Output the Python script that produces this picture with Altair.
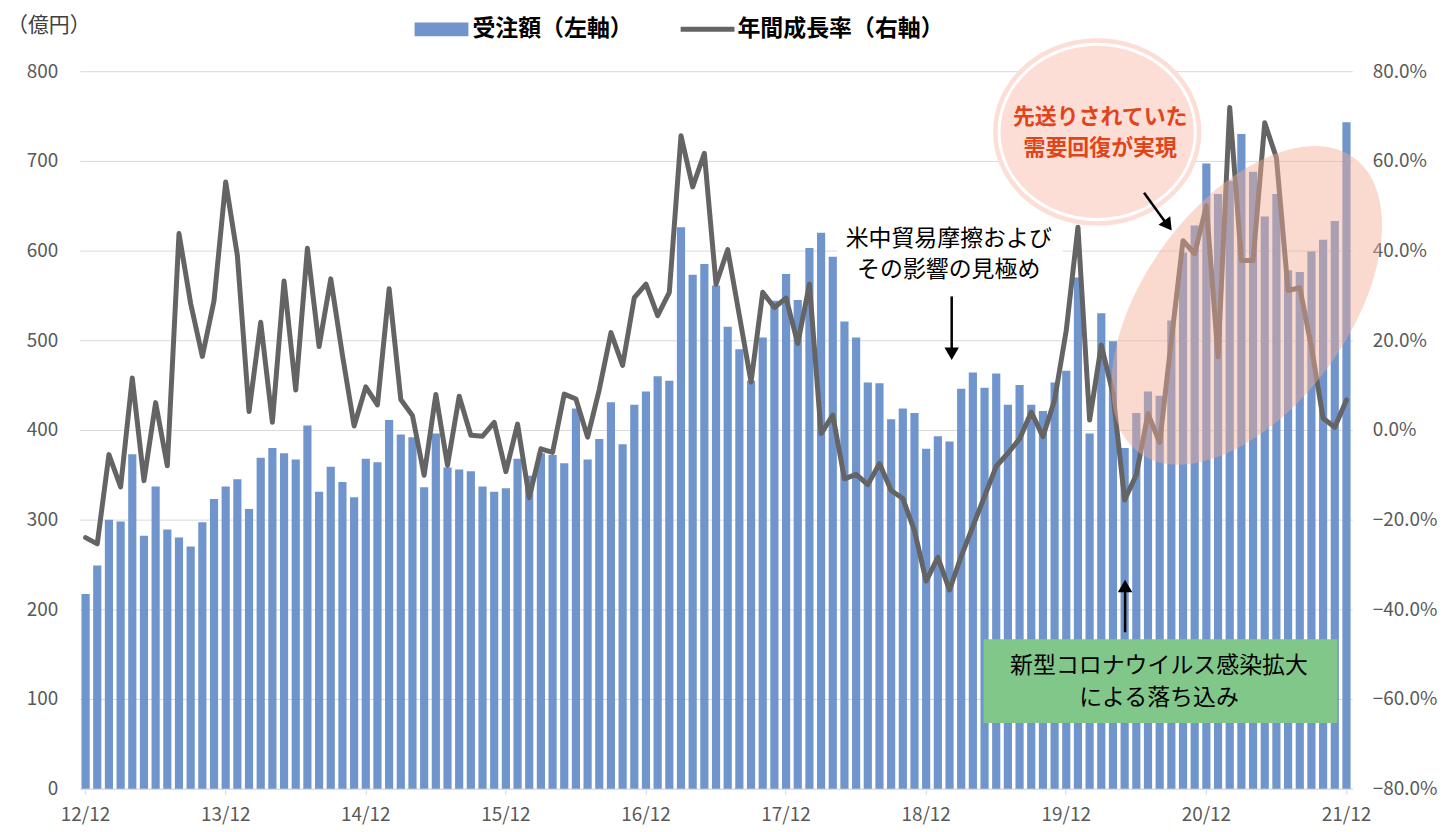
import altair as alt
import pandas as pd

# ---------------- data ----------------
months = [f"{12 + (i + 11) // 12:02d}/{(i + 11) % 12 + 1:02d}" for i in range(109)]

orders = [217, 249, 300, 298, 373, 282, 337, 289, 280, 270, 297, 323,
          337, 345, 312, 369, 380, 374, 367, 405, 331, 359, 342, 325,
          368, 364, 411, 395, 392, 336, 396, 358, 356, 354, 337, 331,
          335, 368, 349, 374, 372, 363, 424, 367, 390, 431, 384, 428,
          443, 460, 455, 626, 573, 585, 561, 515, 490, 455, 503, 544,
          574, 545, 603, 620, 593, 521, 503, 453, 452, 412, 424, 419,
          379, 393, 387, 446, 464, 447, 463, 428, 450, 428, 421, 453,
          466, 570, 396, 530, 499, 380, 419, 443, 438, 522, 598, 628,
          697, 663, 678, 730, 688, 638, 663, 578, 576, 599, 612, 633,
          743]

growth = [-24.0, -25.4, -5.5, -12.7, 11.6, -11.3, 6.1, -8.0, 43.8, 28.2, 16.4, 28.8,
          55.3, 38.9, 4.1, 24.0, 1.7, 33.2, 8.9, 40.5, 18.6, 33.7, 16.7, 0.9,
          9.6, 5.6, 31.5, 6.8, 3.2, -10.1, 7.9, -7.9, 7.5, -1.2, -1.4, 1.7,
          -9.3, 1.3, -15.1, -4.2, -5.0, 8.0, 6.9, -1.6, 9.0, 21.7, 14.4, 29.5,
          32.5, 25.5, 30.7, 65.6, 54.2, 61.7, 32.5, 40.2, 25.5, 10.7, 30.7, 27.3,
          29.4, 19.3, 32.5, -0.8, 3.3, -10.9, -9.9, -12.2, -7.5, -13.5, -15.3, -22.5,
          -33.7, -28.4, -35.7, -28.2, -21.5, -14.8, -8.1, -5.2, -2.0, 4.0, -1.5, 6.7,
          22.2, 45.2, 2.2, 18.9, 8.1, -15.6, -10.0, 3.6, -2.8, 20.0, 42.2, 39.3,
          50.0, 16.3, 71.9, 37.8, 37.8, 68.5, 60.7, 31.1, 31.7, 18.5, 2.6, 0.6,
          6.7]

x_tick_labels = ["12/12", "13/12", "14/12", "15/12", "16/12",
                 "17/12", "18/12", "19/12", "20/12", "21/12"]
left_ticks = [0, 100, 200, 300, 400, 500, 600, 700, 800]
right_ticks = [-80, -60, -40, -20, 0, 20, 40, 60, 80]

unit_label = "（億円）"
legend_bar = "受注額（左軸）"
legend_line = "年間成長率（右軸）"
note_trade = ["米中貿易摩擦および", "その影響の見極め"]
note_covid = ["新型コロナウイルス感染拡大", "による落ち込み"]
note_recover = ["先送りされていた", "需要回復が実現"]

# ---------------- style ----------------
FONT = "Noto Sans CJK JP"
BLUE = "#7094CC"
GRAY = "#646464"
GRID = "#D9D9D9"
LABEL = "#595959"
RED = "#E2441A"

df = pd.DataFrame({"month": months, "orders": orders, "growth": growth})
one = pd.DataFrame({"k": [0]})

x_scale = alt.Scale(paddingInner=0.3, paddingOuter=0.15)

bars = alt.Chart(df).mark_bar(color=BLUE).encode(
    x=alt.X("month:O", sort=months, scale=x_scale,
            axis=alt.Axis(values=x_tick_labels, labelAngle=0, title="",
                          labelFontSize=19, labelColor=LABEL, labelFont=FONT,
                          labelPadding=11, tickSize=6, tickColor=GRID,
                          domainColor=GRID, grid=False)),
    y=alt.Y("orders:Q", scale=alt.Scale(domain=[0, 800], nice=False),
            axis=alt.Axis(values=left_ticks, title="", grid=True, gridColor=GRID,
                          domain=False, ticks=False, labelFontSize=19,
                          labelColor=LABEL, labelPadding=22, labelFont=FONT)),
)

line = alt.Chart(df).mark_line(color=GRAY, strokeWidth=5, strokeJoin="round",
                               strokeCap="round").encode(
    x=alt.X("month:O", sort=months, scale=x_scale),
    y=alt.Y("growth:Q", scale=alt.Scale(domain=[-80, 80], nice=False),
            axis=alt.Axis(orient="right", values=right_ticks, title="",
                          labelExpr="format(datum.value, '.1f') + '%'",
                          grid=False, domain=False, ticks=False,
                          labelFontSize=19, labelColor=LABEL, labelPadding=20,
                          labelFont=FONT)),
)


def txt(s, x, y, size, color="#000000", weight="normal", align="center"):
    return alt.Chart(one).mark_text(
        text=s, fontSize=size, color=color, fontWeight=weight, align=align,
        baseline="middle", font=FONT).encode(x=alt.value(x), y=alt.value(y))


def ellipse(cx, cy, w, ratio, angle, color, filled=True, opacity=1.0, sw=0.0):
    path = f"M -1 0 A 1 {ratio} 0 1 0 1 0 A 1 {ratio} 0 1 0 -1 0 Z"
    if filled:
        m = alt.Chart(one).mark_point(shape=path, size=w * w, angle=angle,
                                      filled=True, color=color, opacity=opacity,
                                      strokeWidth=0)
    else:
        m = alt.Chart(one).mark_point(shape=path, size=w * w, angle=angle,
                                      filled=False, color=color, opacity=opacity,
                                      strokeWidth=sw)
    return m.encode(x=alt.value(cx), y=alt.value(cy))


def rule(x1, y1, x2, y2, color="#000000", width=2.5):
    return alt.Chart(one).mark_rule(color=color, strokeWidth=width).encode(
        x=alt.value(x1), y=alt.value(y1), x2=alt.value(x2), y2=alt.value(y2))


def head(x, y, shape, angle=0, size=210):
    return alt.Chart(one).mark_point(shape=shape, filled=True, color="#000000",
                                     opacity=1, size=size, angle=angle,
                                     strokeWidth=0).encode(
        x=alt.value(x), y=alt.value(y))


def rect(x1, y1, x2, y2, color):
    return alt.Chart(one).mark_rect(color=color).encode(
        x=alt.value(x1), y=alt.value(y1), x2=alt.value(x2), y2=alt.value(y2))


layers = [bars, line]

# big translucent ellipse
layers.append(ellipse(1171, 235, 366, 0.56, 306, "#F4AE94", opacity=0.45))

# covid box + arrow
layers += [
    rect(907, 570, 1262, 654, "#82C78A"),
    txt(note_covid[0], 1083, 597, 23),
    txt(note_covid[1], 1083, 629, 23),
    rule(1049, 563, 1049, 518),
    head(1049, 516.5, "triangle-up"),
]

# trade-war note
layers += [
    rect(760, 150, 986, 216, "#FFFFFF"),
    txt(note_trade[0], 872, 168, 23),
    txt(note_trade[1], 872, 200, 23),
    rule(875, 226, 875, 283),
    head(875, 283.5, "triangle-down"),
]

# recovery bubble + arrow
layers += [
    ellipse(1021, 61, 209, 0.9, 0, "#FCDED6"),
    ellipse(1021, 61, 197, 0.893, 0, "#FFFFFF", filled=False, sw=3),
    txt(note_recover[0], 1024, 46, 22, color=RED, weight="bold"),
    txt(note_recover[1], 1024, 77, 22, color=RED, weight="bold"),
    rule(1068, 122, 1092, 155),
    head(1092.1, 154.8, "triangle-up", angle=144),
]

# legend + unit label
layers += [
    txt(unit_label, -73, -45, 21, color="#404040", align="left"),
    rect(336, -49, 390, -35, BLUE),
    txt(legend_bar, 394, -42, 23, weight="bold", align="left"),
    rule(603, -42, 657, -42, color=GRAY, width=5),
    txt(legend_line, 660, -42, 23, weight="bold", align="left"),
]

chart = alt.layer(*layers).resolve_scale(y="independent").properties(
    width=1277, height=720,
    autosize=alt.AutoSizeParams(type="none"),
    padding={"left": 72, "top": 62, "right": 86, "bottom": 36},
).configure(font=FONT).configure_view(stroke="transparent")

chart.save("out.html", embed_options={"renderer": "svg", "actions": False})
